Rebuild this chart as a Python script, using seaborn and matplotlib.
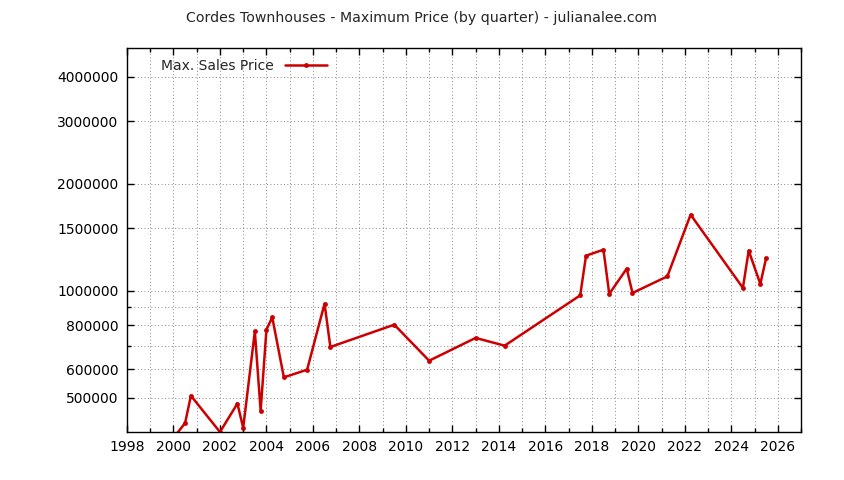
import numpy as np
import pandas as pd
import matplotlib
matplotlib.use("Agg")
import matplotlib.pyplot as plt
import matplotlib.ticker as mticker
import seaborn as sns

# quarter (decimal year) and max sales price
quarters = [2000.0, 2000.5, 2000.75, 2002.0, 2002.75, 2003.0, 2003.5, 2003.75,
            2004.0, 2004.25, 2004.75, 2005.75, 2006.5, 2006.75, 2009.5, 2011.0,
            2013.0, 2014.25, 2017.5, 2017.75, 2018.5, 2018.75, 2019.5, 2019.75,
            2021.25, 2022.25, 2024.5, 2024.75, 2025.25, 2025.5]
max_price = [385000, 424000, 506000, 400000, 481000, 411000, 768000, 459000,
             777000, 841000, 570000, 599000, 919000, 694000, 802000, 635000,
             736000, 700000, 970000, 1254000, 1304000, 979000, 1153000, 985000,
             1097000, 1636000, 1018000, 1296000, 1044000, 1236000]

year_ticks = list(range(1998, 2027, 2))
price_ticks = [500000, 600000, 800000, 1000000, 1500000, 2000000, 3000000, 4000000]
price_minor = [700000, 900000]

df = pd.DataFrame({"quarter": quarters, "price": max_price})

sns.set_style("ticks")
plt.rcParams["font.family"] = ["DejaVu Sans"]

fig = plt.figure(figsize=(8.44, 4.8), dpi=100)
ax = fig.add_axes([127 / 844, 1 - 432 / 480, 674 / 844, 384 / 480])

sns.lineplot(data=df, x="quarter", y="price", ax=ax, color="#cc0000",
             linewidth=1.8, marker="o", markersize=3.5, markeredgewidth=0,
             label="Max. Sales Price")

ax.set_yscale("log")
ax.set_xlim(1998, 2027)
ax.set_ylim(400000, 4820000)

ax.xaxis.set_major_locator(mticker.FixedLocator(year_ticks))
ax.xaxis.set_minor_locator(mticker.MultipleLocator(1))
ax.yaxis.set_major_locator(mticker.FixedLocator(price_ticks))
ax.yaxis.set_minor_locator(mticker.FixedLocator(price_minor))
ax.yaxis.set_major_formatter(mticker.FuncFormatter(lambda v, p: f"{int(round(v))}"))
ax.yaxis.set_minor_formatter(mticker.NullFormatter())

ax.tick_params(which="both", direction="in", top=True, right=True,
               labelsize=10, colors="black", width=1)
ax.tick_params(which="major", length=5, pad=6)
ax.tick_params(which="minor", length=3)

ax.grid(True, which="both", color="#888888", linestyle=(0, (1, 2.5)), linewidth=0.7)
for s in ax.spines.values():
    s.set_linewidth(1)
    s.set_color("black")

ax.set_xlabel("")
ax.set_ylabel("")

leg = ax.legend(loc="upper left", frameon=False, markerfirst=False,
                fontsize=10, handlelength=3, bbox_to_anchor=(0.032, 1.003))

fig.text(421 / 844, 1 - 18 / 480, "Cordes Townhouses - Maximum Price (by quarter) - julianalee.com",
         ha="center", va="center", fontsize=10.2)

fig.savefig("out.png", dpi=100)
